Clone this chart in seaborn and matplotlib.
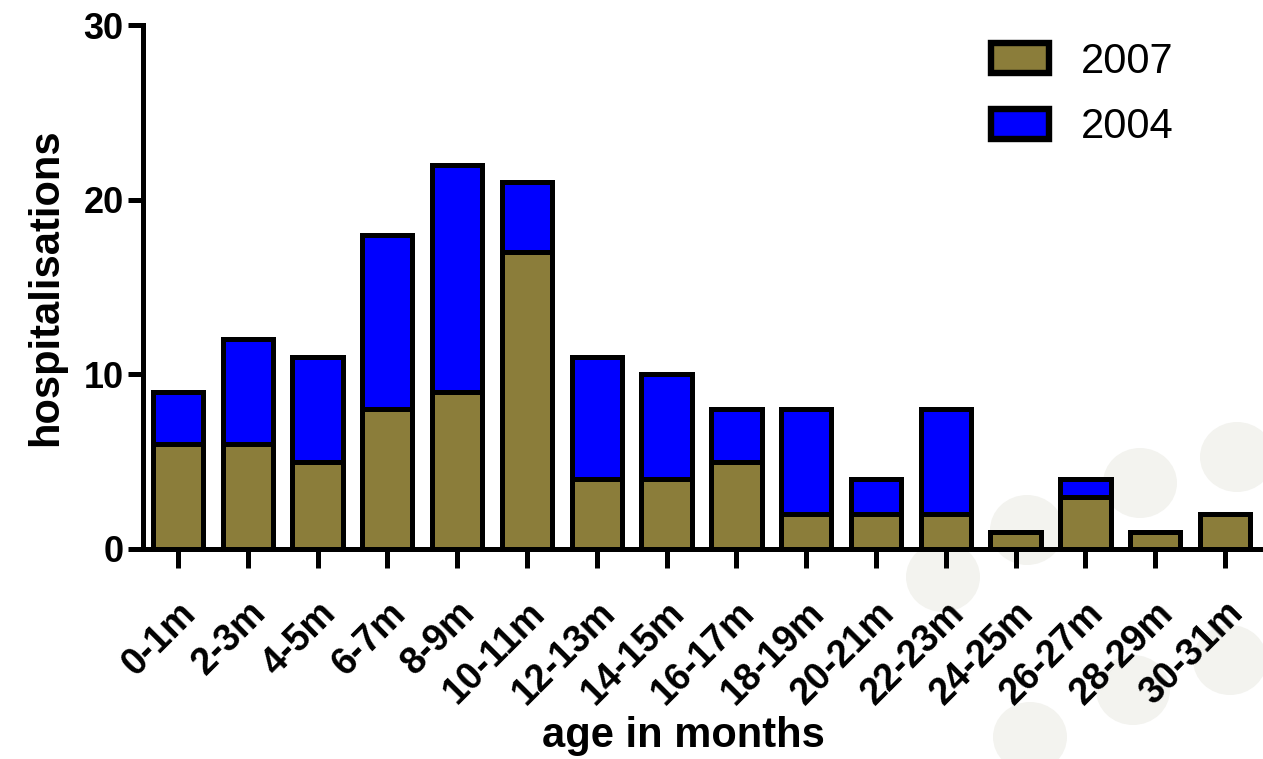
import seaborn as sns
import matplotlib.pyplot as plt
import pandas as pd
from matplotlib.patches import Ellipse, Patch

sns.set_style("white")
plt.rcParams['font.family'] = ['Liberation Sans', 'DejaVu Sans']
plt.rcParams['text.color'] = "black"
plt.rcParams['axes.labelcolor'] = "black"
plt.rcParams['xtick.color'] = "black"
plt.rcParams['ytick.color'] = "black"

ages = ["0-1m", "2-3m", "4-5m", "6-7m", "8-9m", "10-11m", "12-13m", "14-15m",
        "16-17m", "18-19m", "20-21m", "22-23m", "24-25m", "26-27m", "28-29m", "30-31m"]
y2007 = [6, 6, 5, 8, 9, 17, 4, 4, 5, 2, 2, 2, 1, 3, 1, 2]
y2004 = [3, 6, 6, 10, 13, 4, 7, 6, 3, 6, 2, 6, 0, 1, 0, 0]

df = pd.DataFrame({"age": ages, "y2007": y2007, "y2004": y2004})
df["total"] = df["y2007"] + df["y2004"]

olive = "#8b7d3a"
blue = "#0000ff"
lw = 3.6

fig = plt.figure(figsize=(12.63, 7.59), dpi=100)

# faint background blobs (pixel coordinates of the picture)
bg = fig.add_axes([0, 0, 1, 1], zorder=-1)
bg.set_xlim(0, 1263)
bg.set_ylim(759, 0)
bg.axis("off")
blobs = [(1237, 457), (1140, 483), (1027, 530), (943, 577),
         (1133, 690), (1230, 660), (1030, 737)]
for bx, by in blobs:
    bg.add_patch(Ellipse((bx, by), 74, 70, facecolor="#f3f3ef", edgecolor="none"))

ax = fig.add_axes([0.1132, 0.2767, 0.8844, 0.6903])
ax.patch.set_alpha(0)

sns.barplot(data=df, x="age", y="total", color=blue, edgecolor="black",
            linewidth=lw, width=0.72, saturation=1, ax=ax)
sns.barplot(data=df, x="age", y="y2007", color=olive, edgecolor="black",
            linewidth=lw, width=0.72, saturation=1, ax=ax)

ax.set_xlim(-0.5, len(ages) - 0.5)
ax.set_ylim(0, 30)
ax.set_yticks([0, 10, 20, 30])

for s in ["top", "right"]:
    ax.spines[s].set_visible(False)
for s in ["left", "bottom"]:
    ax.spines[s].set_linewidth(lw)
    ax.spines[s].set_color("black")

ax.tick_params(axis="y", direction="out", length=11, width=lw, labelsize=26,
               left=True, pad=3)
ax.tick_params(axis="x", direction="out", length=14, width=lw, labelsize=27,
               bottom=True, pad=19)
for t in ax.get_yticklabels():
    t.set_fontweight("bold")
for t in ax.get_xticklabels():
    t.set_fontweight("bold")
    t.set_rotation(45)
    t.set_ha("right")
    t.set_rotation_mode("anchor")

ax.set_ylabel("hospitalisations", fontsize=30, fontweight="bold", labelpad=12)
ax.set_xlabel("age in months", fontsize=30, fontweight="bold")
ax.xaxis.set_label_coords(0.484, -0.318)
ax.xaxis.label.set_va("top")

handles = [Patch(facecolor=olive, edgecolor="black", linewidth=lw + 1, label="2007"),
           Patch(facecolor=blue, edgecolor="black", linewidth=lw + 1, label="2004")]
ax.legend(handles=handles, loc="upper right", bbox_to_anchor=(0.956, 1.04),
          frameon=False, fontsize=30, handlelength=1.4, handleheight=0.72,
          handletextpad=0.75, labelspacing=0.62)

fig.savefig("out.png", dpi=100)
